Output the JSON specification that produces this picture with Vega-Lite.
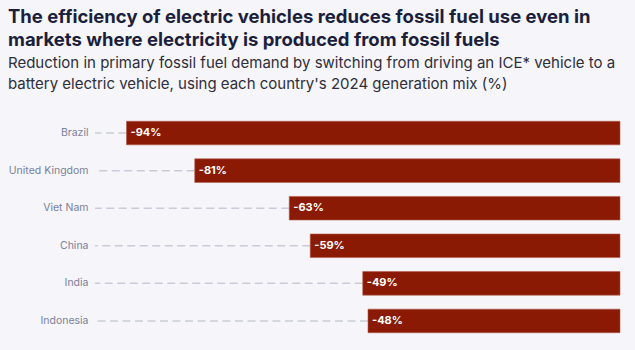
{
  "$schema": "https://vega.github.io/schema/vega-lite/v6.json",
  "autosize": "none",
  "width": 525,
  "height": 234,
  "padding": {"left": 95, "top": 110, "right": 15, "bottom": 6},
  "background": "#f5f5fa",
  "config": {"view": {"stroke": null}, "font": "Inter"},
  "title": {
    "text": ["The efficiency of electric vehicles reduces fossil fuel use even in", "markets where electricity is produced from fossil fuels"],
    "subtitle": ["Reduction in primary fossil fuel demand by switching from driving an ICE* vehicle to a", "battery electric vehicle, using each country's 2024 generation mix (%)"],
    "anchor": "start",
    "frame": "group",
    "dx": -87,
    "offset": 18,
    "font": "Inter",
    "fontSize": 18.5,
    "fontWeight": 700,
    "lineHeight": 23,
    "color": "#1b1f3b",
    "subtitleFont": "Inter",
    "subtitleFontSize": 15,
    "subtitleLineHeight": 21,
    "subtitleColor": "#2e2f3a",
    "subtitlePadding": 7
  },
  "data": {
    "values": [
      {"country": "Brazil", "value": -94, "label": "-94%"},
      {"country": "United Kingdom", "value": -81, "label": "-81%"},
      {"country": "Viet Nam", "value": -63, "label": "-63%"},
      {"country": "China", "value": -59, "label": "-59%"},
      {"country": "India", "value": -49, "label": "-49%"},
      {"country": "Indonesia", "value": -48, "label": "-48%"}
    ]
  },
  "encoding": {
    "y": {
      "field": "country",
      "type": "nominal",
      "sort": null,
      "title": null,
      "scale": {"paddingInner": 0.373, "paddingOuter": 0.3},
      "axis": {"domain": false, "ticks": false, "labelPadding": 7, "labelColor": "#7b819a", "labelFontSize": 10.5, "labelFont": "Inter"}
    }
  },
  "layer": [
    {
      "mark": {"type": "rule", "strokeDash": [8, 4.5], "strokeWidth": 1.5, "color": "#c9cbd8"},
      "encoding": {
        "x": {"field": "value", "type": "quantitative", "scale": {"domain": [-100, 0]}, "axis": null},
        "x2": {"datum": -100}
      }
    },
    {
      "mark": {"type": "bar", "color": "#8a1a04", "stroke": "#b4594a", "strokeWidth": 0.6},
      "encoding": {
        "x": {"field": "value", "type": "quantitative", "scale": {"domain": [-100, 0]}, "axis": null},
        "x2": {"datum": 0}
      }
    },
    {
      "mark": {"type": "text", "align": "left", "dx": 4, "color": "#ffffff", "fontWeight": 700, "fontSize": 11, "font": "Inter"},
      "encoding": {
        "x": {"field": "value", "type": "quantitative", "scale": {"domain": [-100, 0]}, "axis": null},
        "text": {"field": "label"}
      }
    }
  ]
}
